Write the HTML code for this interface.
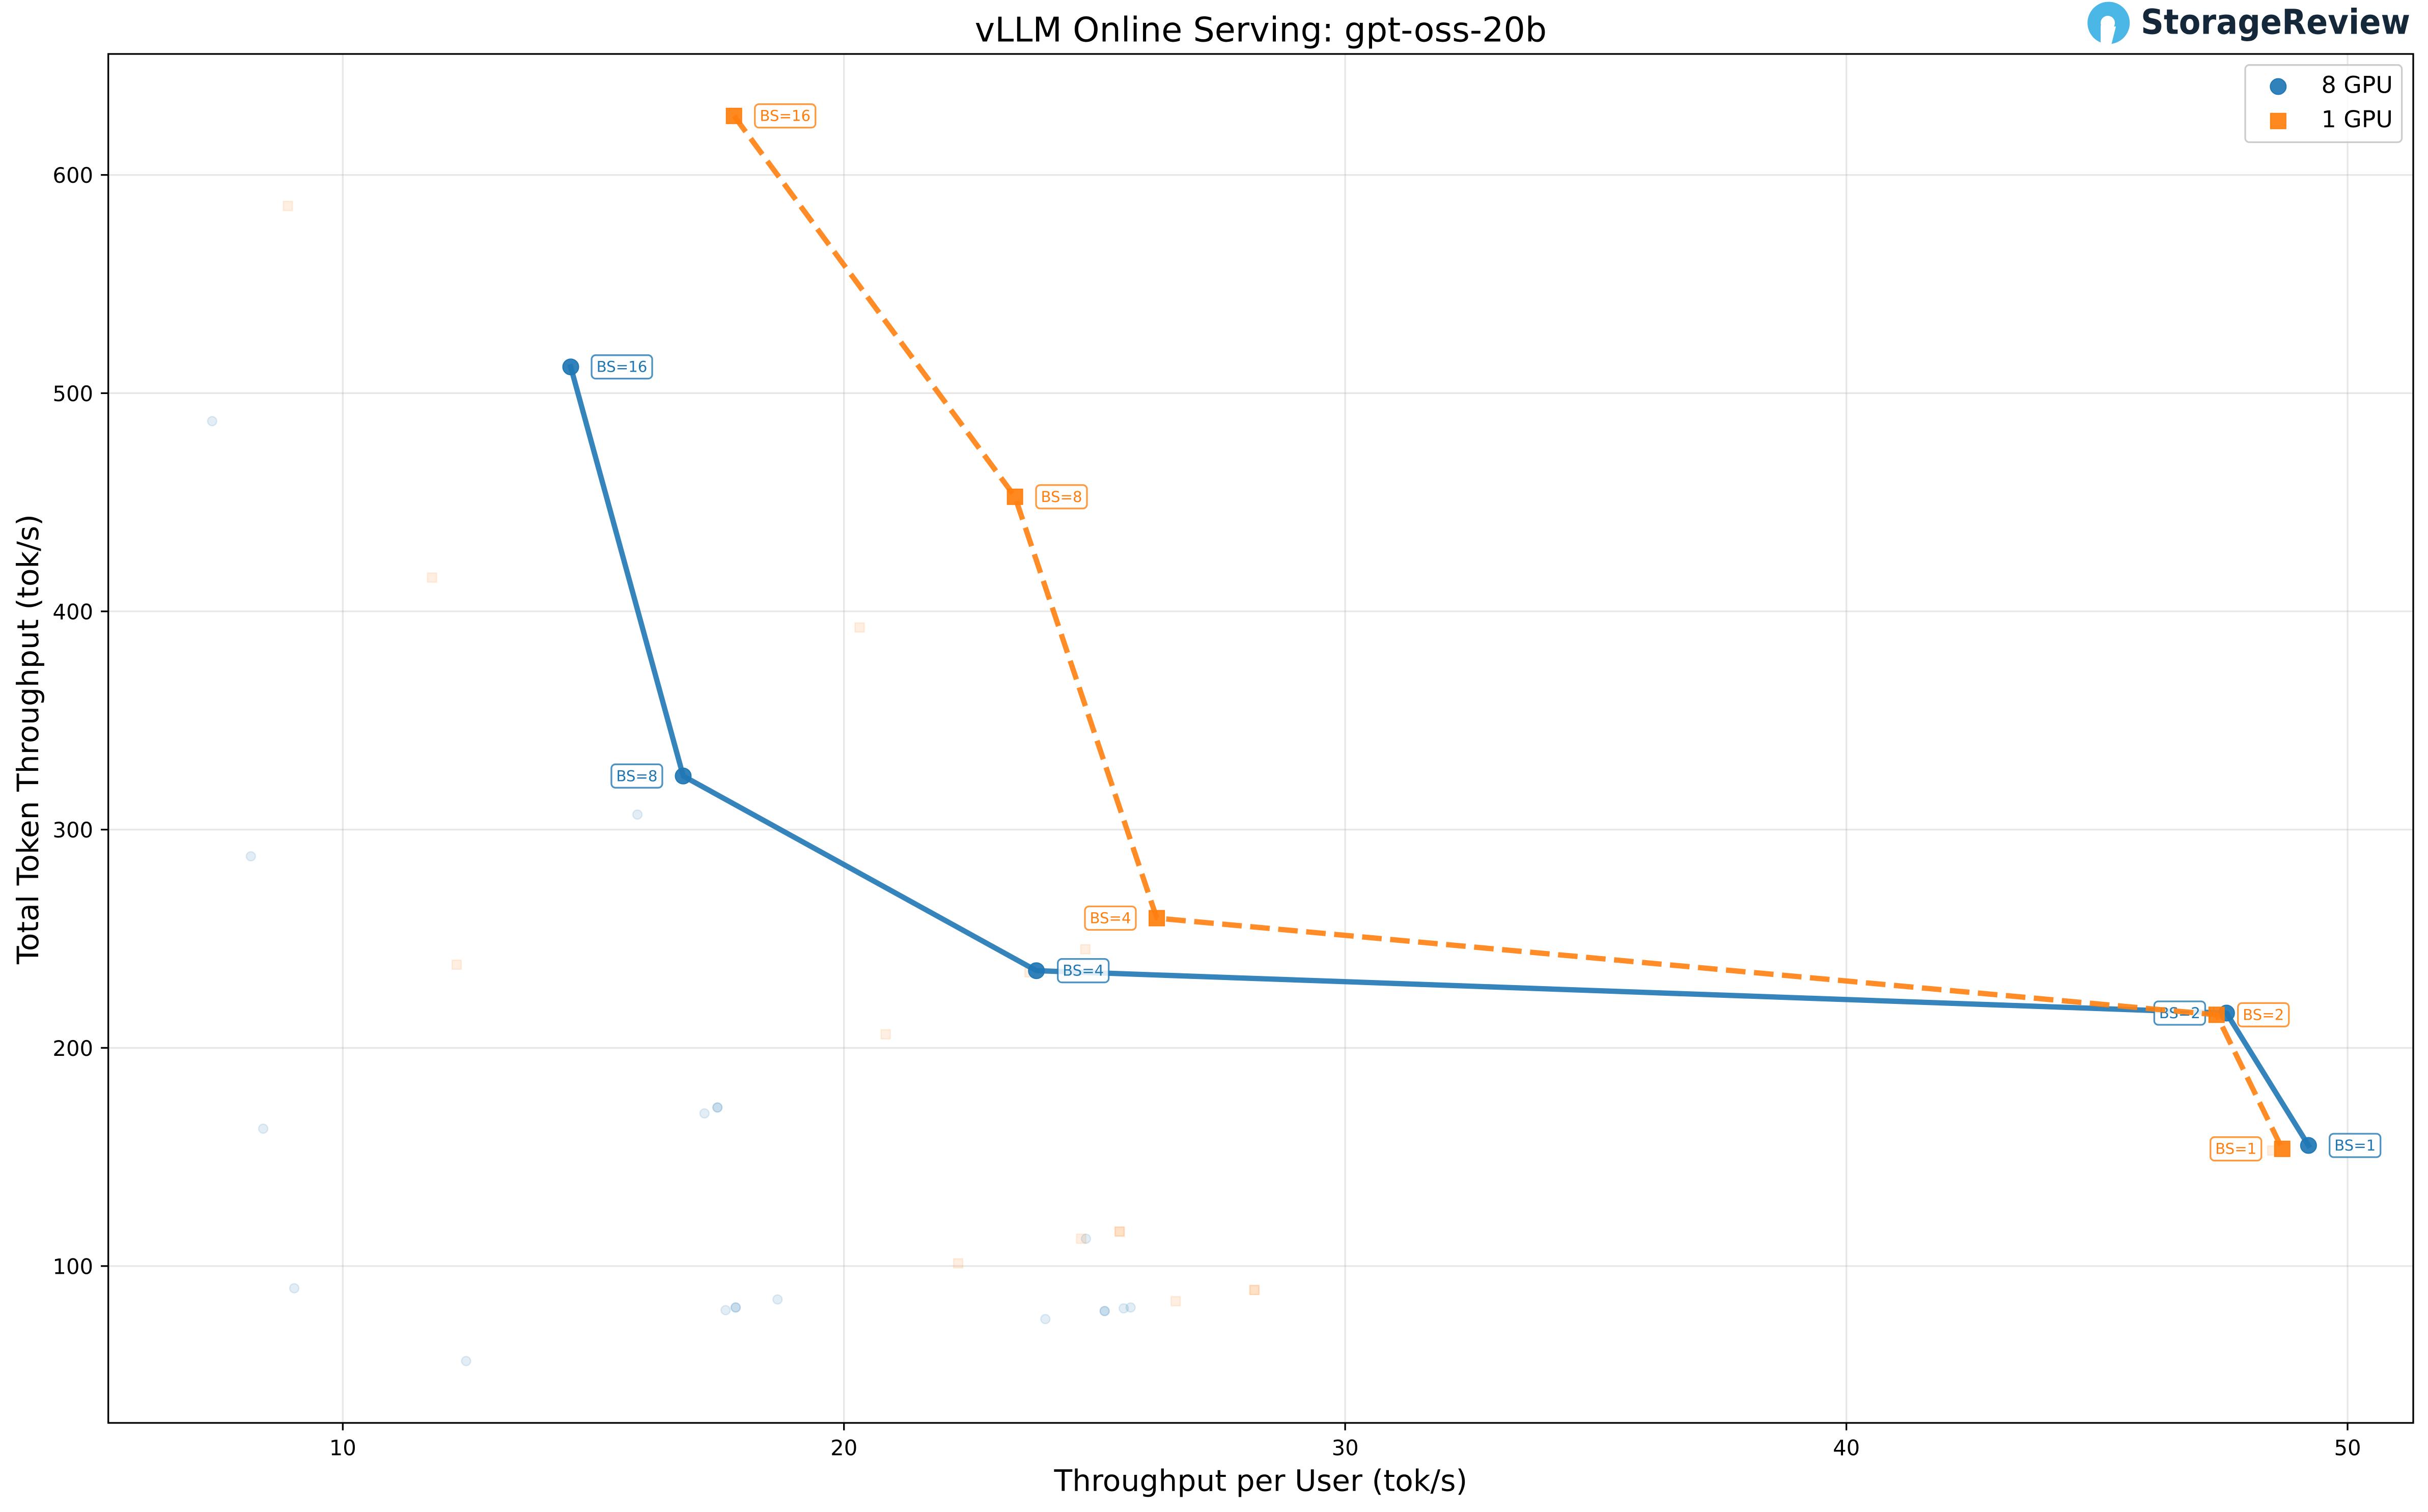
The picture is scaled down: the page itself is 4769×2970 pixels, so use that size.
<!DOCTYPE html>
<html>
<head>
<meta charset="utf-8">
<style>
  html, body { margin: 0; padding: 0; background: #ffffff; }
  svg { display: block; }
  text { font-family: "DejaVu Sans", "Liberation Sans", sans-serif; }
</style>
</head>
<body>
<svg xmlns="http://www.w3.org/2000/svg" width="4769" height="2970" viewBox="0 0 4769 2970">
  <rect x="0" y="0" width="4769" height="2970" fill="#ffffff"/>

  <!-- gridlines -->
  <g stroke="#b0b0b0" stroke-opacity="0.3" stroke-width="3.3">
    <line x1="673.3" y1="106" x2="673.3" y2="2795"/>
    <line x1="1657.7" y1="106" x2="1657.7" y2="2795"/>
    <line x1="2642.1" y1="106" x2="2642.1" y2="2795"/>
    <line x1="3626.6" y1="106" x2="3626.6" y2="2795"/>
    <line x1="4611" y1="106" x2="4611" y2="2795"/>
    <line x1="213" y1="2486.9" x2="4740" y2="2486.9"/>
    <line x1="213" y1="2058.3" x2="4740" y2="2058.3"/>
    <line x1="213" y1="1629.6" x2="4740" y2="1629.6"/>
    <line x1="213" y1="1200.9" x2="4740" y2="1200.9"/>
    <line x1="213" y1="772.3" x2="4740" y2="772.3"/>
    <line x1="213" y1="343.6" x2="4740" y2="343.6"/>
  </g>

  <!-- faint background points: blue -->
  <g fill="#1f77b4" fill-opacity="0.13" stroke="#1f77b4" stroke-opacity="0.13" stroke-width="2.5">
    <circle cx="416.7" cy="827.3" r="9"/>
    <circle cx="492.7" cy="1682" r="9"/>
    <circle cx="517" cy="2217" r="9"/>
    <circle cx="578" cy="2530.5" r="9"/>
    <circle cx="915.5" cy="2673.5" r="9"/>
    <circle cx="1252" cy="1600" r="9"/>
    <circle cx="1383.7" cy="2187" r="9"/>
    <circle cx="1409.2" cy="2175.4" r="9"/>
    <circle cx="1409.2" cy="2175.4" r="9"/>
    <circle cx="1425.2" cy="2573.5" r="9"/>
    <circle cx="1445" cy="2568.2" r="9"/>
    <circle cx="1445" cy="2568.2" r="9"/>
    <circle cx="1527.2" cy="2552.5" r="9"/>
    <circle cx="2053.3" cy="2591" r="9"/>
    <circle cx="2133" cy="2433.2" r="9"/>
    <circle cx="2169.7" cy="2575.3" r="9"/>
    <circle cx="2169.7" cy="2575.3" r="9"/>
    <circle cx="2207.2" cy="2570" r="9"/>
    <circle cx="2220.7" cy="2568.2" r="9"/>
  </g>
  <!-- faint background points: orange -->
  <g fill="#ff7f0e" fill-opacity="0.12" stroke="#ff7f0e" stroke-opacity="0.12" stroke-width="2.5">
    <rect x="556.4" y="395.5" width="18" height="18"/>
    <rect x="839.6" y="1125.5" width="18" height="18"/>
    <rect x="888" y="1886" width="18" height="18"/>
    <rect x="1679.4" y="1223.5" width="18" height="18"/>
    <rect x="1730.7" y="2022.7" width="18" height="18"/>
    <rect x="1873" y="2472.6" width="18" height="18"/>
    <rect x="2114.5" y="2424.2" width="18" height="18"/>
    <rect x="2122.8" y="1855.6" width="18" height="18"/>
    <rect x="2190.2" y="2410.2" width="18" height="18"/>
    <rect x="2190.2" y="2410.2" width="18" height="18"/>
    <rect x="2300.2" y="2547" width="18" height="18"/>
    <rect x="2454.9" y="2524.9" width="18" height="18"/>
    <rect x="2454.9" y="2524.9" width="18" height="18"/>
    <rect x="2013" y="1901" width="18" height="18"/>
    <rect x="4454" y="2251" width="18" height="18"/>
  </g>

  <!-- 8 GPU series -->
  <polyline points="1121,720.7 1341.9,1524.3 2035.7,1906.7 4373.3,1990 4534.3,2250"
            fill="none" stroke="#1f77b4" stroke-opacity="0.9" stroke-width="10.4"
            stroke-linejoin="round" stroke-linecap="square"/>
  <g fill="#1f77b4" fill-opacity="0.92" stroke="#1f77b4" stroke-width="2">
    <circle cx="1121" cy="720.7" r="15.5"/>
    <circle cx="1341.9" cy="1524.3" r="15.5"/>
    <circle cx="2035.7" cy="1906.7" r="15.5"/>
    <circle cx="4373.3" cy="1990" r="15.5"/>
    <circle cx="4534.3" cy="2250" r="15.5"/>
  </g>
  <!-- 8 GPU labels -->
  <g font-size="29.2" fill="#1f77b4" text-anchor="middle">
    <rect x="1162" y="697.7" width="119" height="46" rx="8" fill="#ffffff" fill-opacity="0.85" stroke="#1f77b4" stroke-opacity="0.8" stroke-width="3.3"/>
    <text x="1221.5" y="730.7">BS=16</text>
    <rect x="1200.9" y="1501.3" width="100" height="46" rx="8" fill="#ffffff" fill-opacity="0.85" stroke="#1f77b4" stroke-opacity="0.8" stroke-width="3.3"/>
    <text x="1250.9" y="1534.3">BS=8</text>
    <rect x="2077.7" y="1883.7" width="100" height="46" rx="8" fill="#ffffff" fill-opacity="0.85" stroke="#1f77b4" stroke-opacity="0.8" stroke-width="3.3"/>
    <text x="2127.7" y="1916.7">BS=4</text>
    <rect x="4231.3" y="1967" width="100" height="46" rx="8" fill="#ffffff" fill-opacity="0.85" stroke="#1f77b4" stroke-opacity="0.8" stroke-width="3.3"/>
    <text x="4281.3" y="2000">BS=2</text>
    <rect x="4575.7" y="2227" width="100" height="46" rx="8" fill="#ffffff" fill-opacity="0.85" stroke="#1f77b4" stroke-opacity="0.8" stroke-width="3.3"/>
    <text x="4625.7" y="2260">BS=1</text>
  </g>

  <!-- 1 GPU series -->
  <polyline points="1441.7,227.7 1993.6,975.8 2272.1,1803.5 4353.7,1993.3 4482.7,2256.7"
            fill="none" stroke="#ff7f0e" stroke-opacity="0.9" stroke-width="10.4"
            stroke-dasharray="38.5 16.7" stroke-linejoin="round" stroke-linecap="butt"/>
  <g fill="#ff7f0e" fill-opacity="0.92" stroke="#ff7f0e" stroke-width="2">
    <rect x="1426.7" y="212.7" width="30" height="30"/>
    <rect x="1978.6" y="960.8" width="30" height="30"/>
    <rect x="2257.1" y="1788.5" width="30" height="30"/>
    <rect x="4338.7" y="1978.3" width="30" height="30"/>
    <rect x="4467.7" y="2241.7" width="30" height="30"/>
  </g>
  <!-- 1 GPU labels -->
  <g font-size="29.2" fill="#ff7f0e" text-anchor="middle">
    <rect x="1482.7" y="204.7" width="119" height="46" rx="8" fill="#ffffff" fill-opacity="0.85" stroke="#ff7f0e" stroke-opacity="0.8" stroke-width="3.3"/>
    <text x="1542.2" y="237.7">BS=16</text>
    <rect x="2035" y="952.8" width="100" height="46" rx="8" fill="#ffffff" fill-opacity="0.85" stroke="#ff7f0e" stroke-opacity="0.8" stroke-width="3.3"/>
    <text x="2085" y="985.8">BS=8</text>
    <rect x="2131" y="1780.5" width="100" height="46" rx="8" fill="#ffffff" fill-opacity="0.85" stroke="#ff7f0e" stroke-opacity="0.8" stroke-width="3.3"/>
    <text x="2181" y="1813.5">BS=4</text>
    <rect x="4395.7" y="1970.3" width="100" height="46" rx="8" fill="#ffffff" fill-opacity="0.85" stroke="#ff7f0e" stroke-opacity="0.8" stroke-width="3.3"/>
    <text x="4445.7" y="2003.3">BS=2</text>
    <rect x="4341.7" y="2233.7" width="100" height="46" rx="8" fill="#ffffff" fill-opacity="0.85" stroke="#ff7f0e" stroke-opacity="0.8" stroke-width="3.3"/>
    <text x="4391.7" y="2266.7">BS=1</text>
  </g>

  <!-- axes frame -->
  <rect x="212.7" y="106" width="4527.3" height="2689" fill="none" stroke="#000000" stroke-width="3.3"/>

  <!-- ticks -->
  <g stroke="#000000" stroke-width="3.3">
    <line x1="673.3" y1="2795" x2="673.3" y2="2809.6"/>
    <line x1="1657.7" y1="2795" x2="1657.7" y2="2809.6"/>
    <line x1="2642.1" y1="2795" x2="2642.1" y2="2809.6"/>
    <line x1="3626.6" y1="2795" x2="3626.6" y2="2809.6"/>
    <line x1="4611" y1="2795" x2="4611" y2="2809.6"/>
    <line x1="198.1" y1="2486.9" x2="212.7" y2="2486.9"/>
    <line x1="198.1" y1="2058.3" x2="212.7" y2="2058.3"/>
    <line x1="198.1" y1="1629.6" x2="212.7" y2="1629.6"/>
    <line x1="198.1" y1="1200.9" x2="212.7" y2="1200.9"/>
    <line x1="198.1" y1="772.3" x2="212.7" y2="772.3"/>
    <line x1="198.1" y1="343.6" x2="212.7" y2="343.6"/>
  </g>

  <!-- tick labels -->
  <g font-size="41.7" fill="#000000" text-anchor="middle">
    <text x="673.3" y="2858.3">10</text>
    <text x="1657.7" y="2858.3">20</text>
    <text x="2642.1" y="2858.3">30</text>
    <text x="3626.6" y="2858.3">40</text>
    <text x="4611" y="2858.3">50</text>
  </g>
  <g font-size="41.7" fill="#000000" text-anchor="end">
    <text x="183" y="2502.5">100</text>
    <text x="183" y="2073.9">200</text>
    <text x="183" y="1645.2">300</text>
    <text x="183" y="1216.5">400</text>
    <text x="183" y="787.9">500</text>
    <text x="183" y="359.2">600</text>
  </g>

  <!-- axis labels and title -->
  <text x="2476.4" y="2928.3" font-size="58.3" text-anchor="middle" fill="#000000">Throughput per User (tok/s)</text>
  <text transform="translate(75,1452) rotate(-90)" font-size="58.3" text-anchor="middle" fill="#000000">Total Token Throughput (tok/s)</text>
  <text x="2476.4" y="81.7" font-size="66.7" text-anchor="middle" fill="#000000">vLLM Online Serving: gpt-oss-20b</text>

  <!-- legend -->
  <rect x="4410" y="127.7" width="307.6" height="151.6" rx="8" fill="#ffffff" fill-opacity="0.8" stroke="#cccccc" stroke-width="3.3"/>
  <circle cx="4474.8" cy="170" r="15.5" fill="#1f77b4" fill-opacity="0.92" stroke="#1f77b4" stroke-width="2"/>
  <rect x="4459.8" y="222.7" width="30" height="30" fill="#ff7f0e" fill-opacity="0.92" stroke="#ff7f0e" stroke-width="2"/>
  <text x="4559.6" y="182.7" font-size="45.8" fill="#000000">8 GPU</text>
  <text x="4559.6" y="250" font-size="45.8" fill="#000000">1 GPU</text>

  <!-- StorageReview logo -->
  <g>
    <circle cx="4141.7" cy="45" r="41.5" fill="#4ab7e6"/>
    <polygon points="4126,50 4126,92 4146,92 4156,52" fill="#ffffff"/>
    <circle cx="4140" cy="45" r="14" fill="#ffffff"/>
    <text x="4205" y="66.7" font-size="68" font-weight="bold" fill="#14283a"
          font-family="'DejaVu Sans', 'Liberation Sans', sans-serif"
          textLength="529" lengthAdjust="spacingAndGlyphs">StorageReview</text>
  </g>
</svg>
</body>
</html>
